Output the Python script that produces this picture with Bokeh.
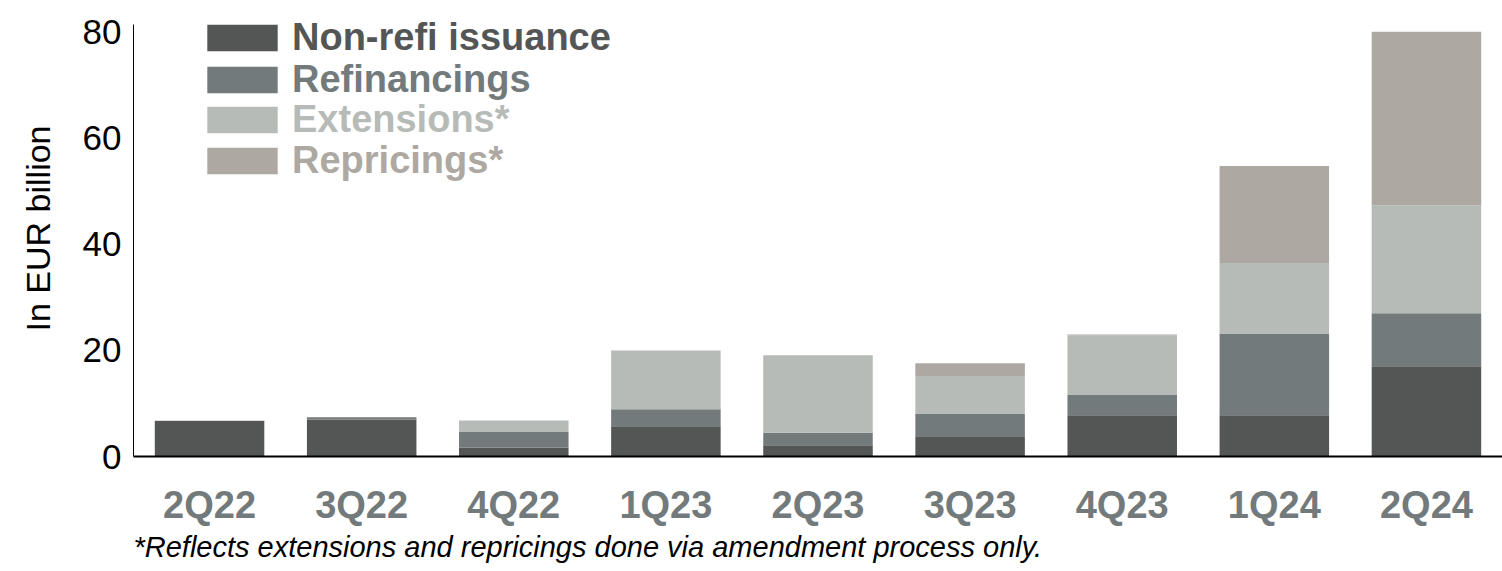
from bokeh.plotting import figure
from bokeh.models import Legend, LegendItem, Title, FixedTicker, ColumnDataSource
from bokeh.embed import file_html
from bokeh.resources import INLINE

quarters = ["2Q22", "3Q22", "4Q22", "1Q23", "2Q23", "3Q23", "4Q23", "1Q24", "2Q24"]
non_refi = [6.7, 7.0, 1.7, 5.7, 2.1, 3.8, 7.8, 7.8, 17.0]
refinancings = [0.0, 0.4, 3.0, 3.2, 2.4, 4.2, 3.8, 15.3, 10.0]
extensions = [0.1, 0.0, 2.1, 11.1, 14.5, 7.2, 11.2, 13.4, 20.4]
repricings = [0.0, 0.0, 0.0, 0.0, 0.1, 2.4, 0.2, 18.3, 32.7]

series = ["non_refi", "refinancings", "extensions", "repricings"]
labels = ["Non-refi issuance", "Refinancings", "Extensions*", "Repricings*"]
colors = ["#545655", "#737a7b", "#b7bbb7", "#ada8a1"]
footnote = "*Reflects extensions and repricings done via amendment process only."

source = ColumnDataSource(dict(quarters=quarters, non_refi=non_refi,
                               refinancings=refinancings, extensions=extensions,
                               repricings=repricings))

FONT = "Liberation Sans"

p = figure(x_range=quarters, y_range=(0, 86), width=1502, height=571,
           output_backend="svg", toolbar_location=None,
           min_border_left=133, min_border_right=0, min_border_top=0,
           min_border_bottom=115)
p.x_range.range_padding = 0

renderers = p.vbar_stack(series, x="quarters", width=0.72, source=source,
                         color=colors, line_color=None)

p.xgrid.visible = False
p.ygrid.visible = False
p.outline_line_color = None

p.yaxis.ticker = FixedTicker(ticks=[0, 20, 40, 60, 80])
p.yaxis.bounds = (0, 81.5)
p.yaxis.major_tick_line_color = None
p.yaxis.minor_tick_line_color = None
p.yaxis.axis_line_color = "black"
p.yaxis.axis_line_width = 1
p.yaxis.major_label_text_font = FONT
p.yaxis.major_label_text_font_size = "35px"
p.yaxis.major_label_text_color = "black"
p.yaxis.major_label_standoff = 6
p.yaxis.axis_label = "In EUR billion"
p.yaxis.axis_label_text_font = FONT
p.yaxis.axis_label_text_font_size = "34px"
p.yaxis.axis_label_text_font_style = "normal"
p.yaxis.axis_label_text_color = "black"
p.yaxis.axis_label_standoff = 23

p.xaxis.major_tick_line_color = None
p.xaxis.minor_tick_line_color = None
p.xaxis.axis_line_color = "black"
p.xaxis.axis_line_width = 2
p.xaxis.major_label_text_font = FONT
p.xaxis.major_label_text_font_size = "38px"
p.xaxis.major_label_text_font_style = "bold"
p.xaxis.major_label_text_color = "#737a7b"
p.xaxis.major_label_standoff = 21

note = Title(text=footnote, text_font=FONT, text_font_size="29px",
             text_font_style="italic", text_color="black", align="left",
             offset=0, standoff=0)
p.add_layout(note, "below")

ys = [397, 355, 315, 274]
for r, lab, col, yy in zip(renderers, labels, colors, ys):
    lg = Legend(items=[LegendItem(label=lab, renderers=[r])], location=(65, yy),
                glyph_width=88, glyph_height=33, label_standoff=6,
                label_text_font=FONT, label_text_font_size="38px",
                label_text_font_style="bold", label_text_color=col,
                padding=0, margin=0, spacing=0,
                border_line_color=None, background_fill_alpha=0)
    p.add_layout(lg, "center")

open("out.html", "w").write(file_html(p, INLINE))
